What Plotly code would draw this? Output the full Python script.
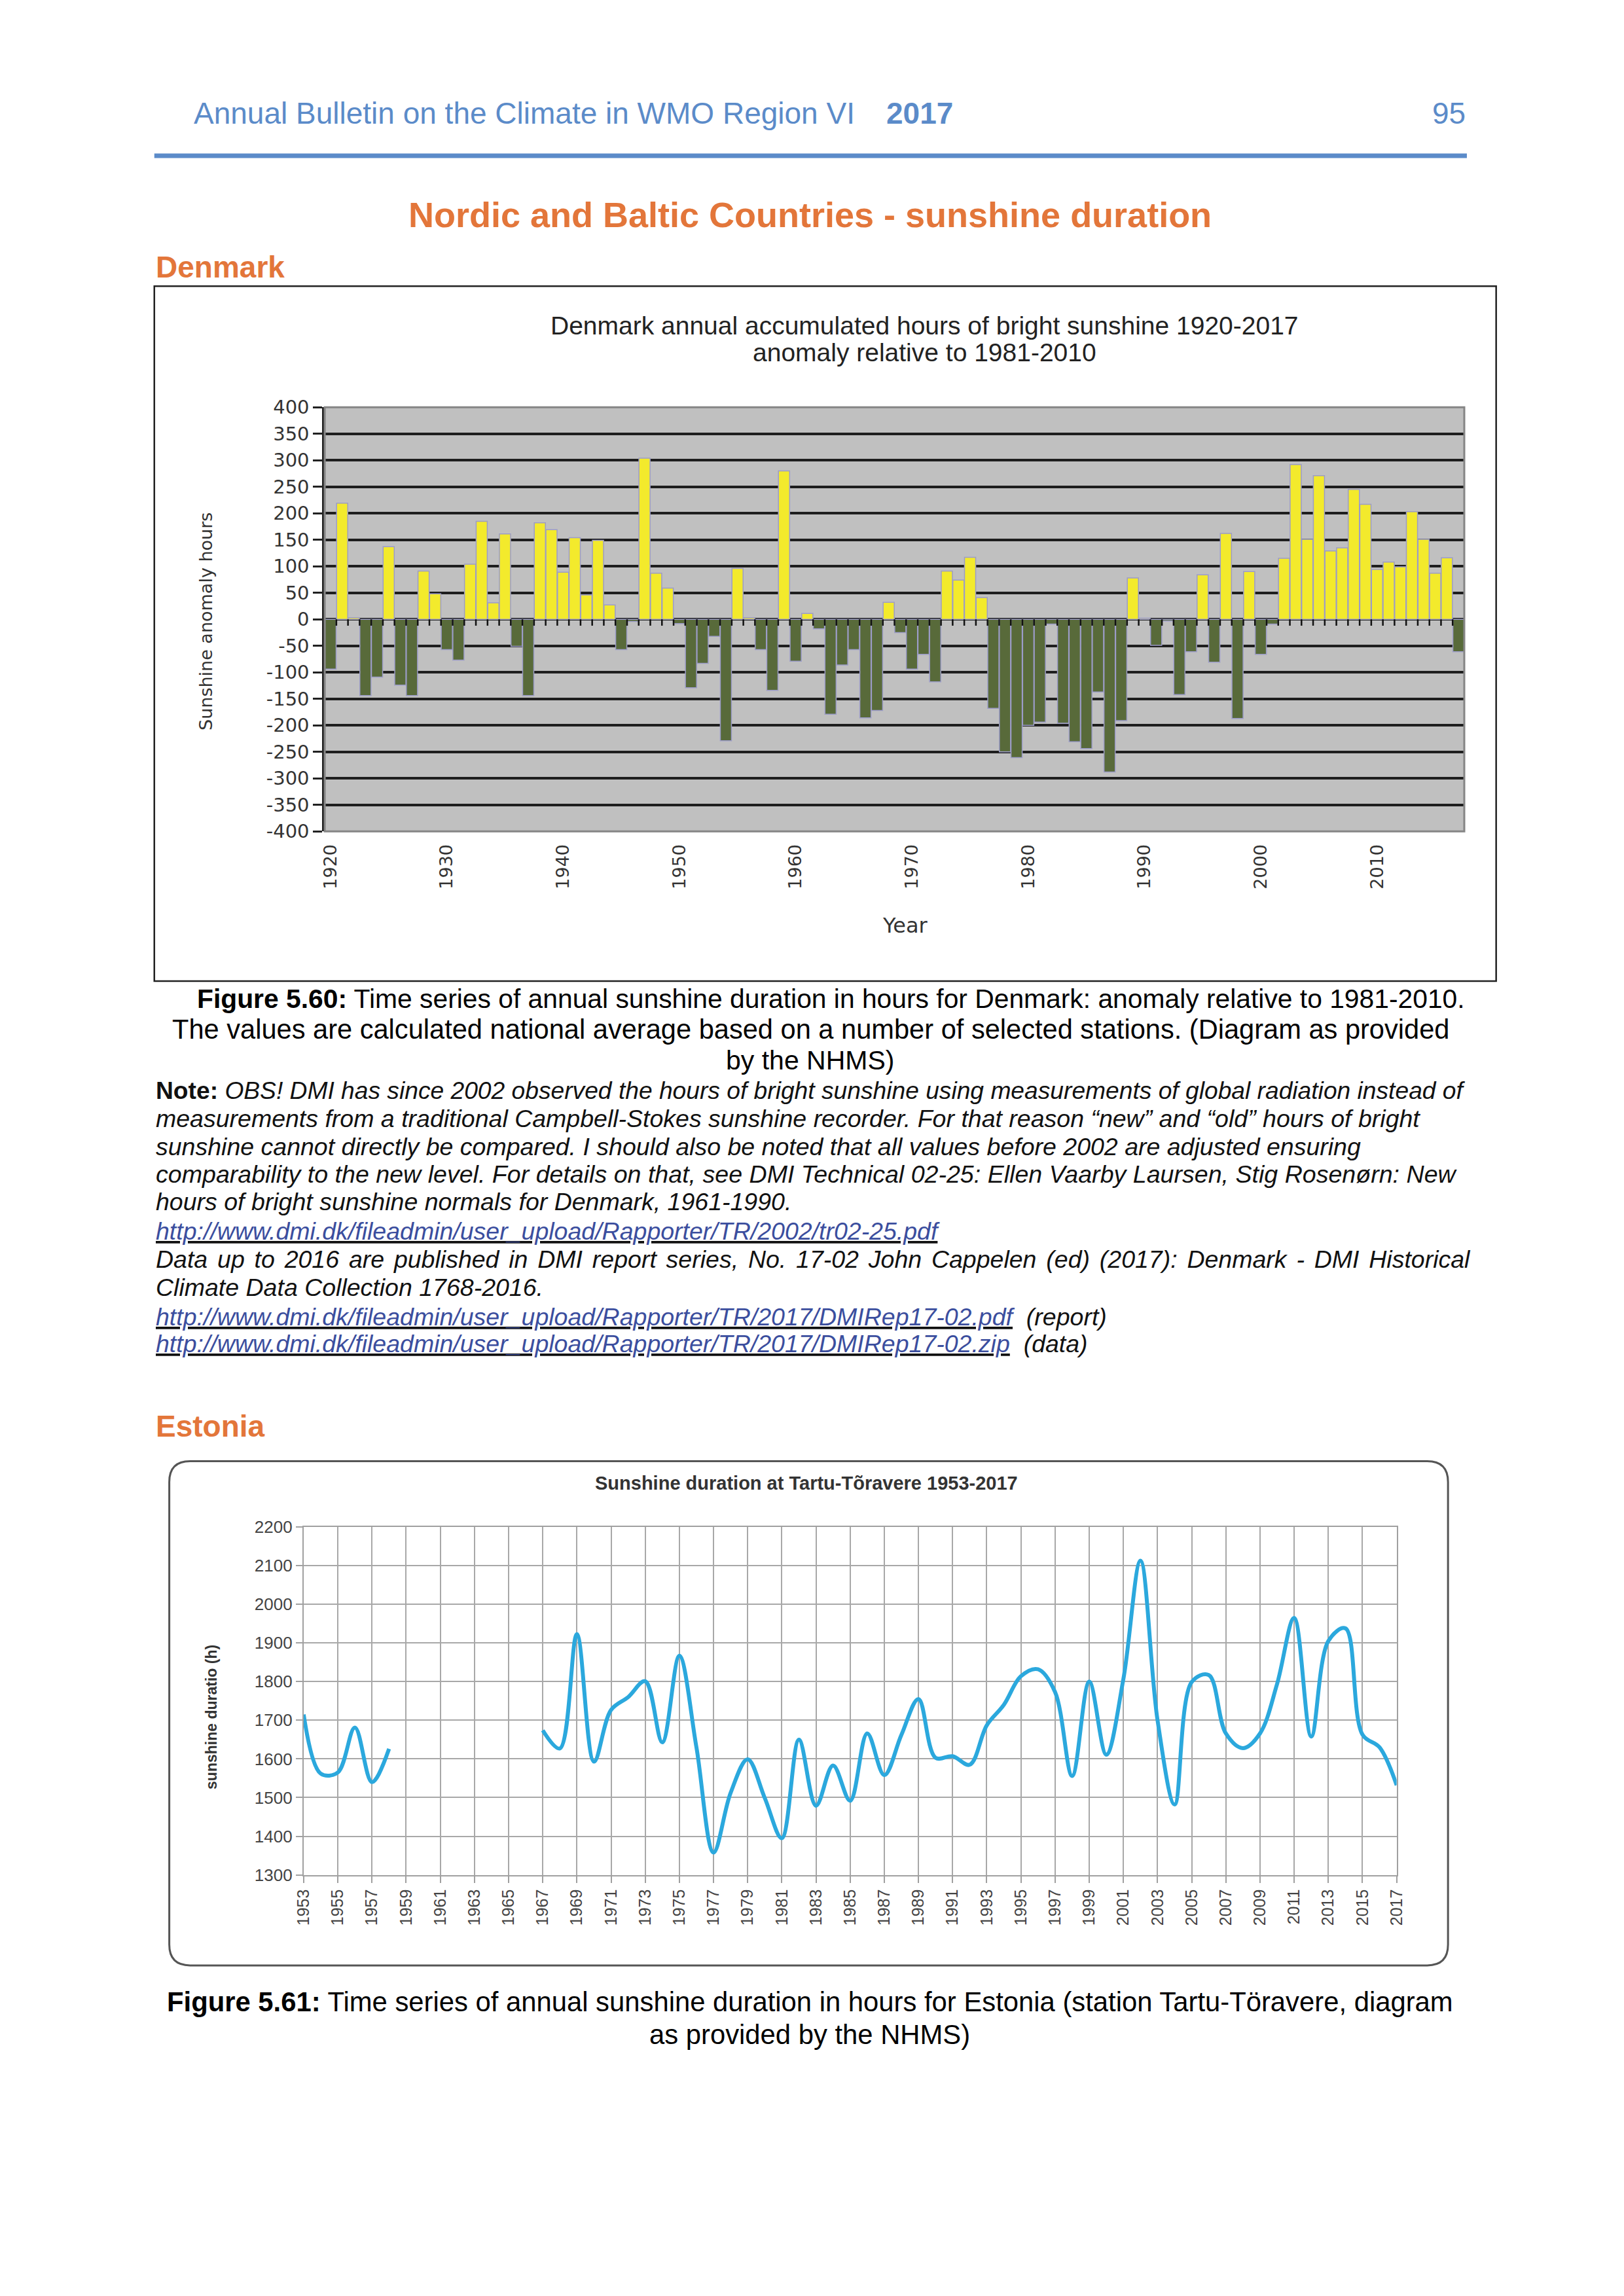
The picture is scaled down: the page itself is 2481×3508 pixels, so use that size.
import plotly.graph_objects as go

# ---------------- data ----------------
dk_years = list(range(1920, 2018))
dk_anom = [
    -94, 219, 3, -144, -109, 137, -124, -144, 91, 48,        # 1920-1929
    -57, -77, 104, 185, 31, 161, -51, -144, 182, 169,        # 1930-1939
    89, 154, 46, 149, 27, -57, -4, 304, 87, 59,              # 1940-1949
    -8, -129, -83, -32, -229, 96, 3, -57, -134, 280,         # 1950-1959
    -79, 11, -18, -179, -86, -57, -186, -172, 32, -25,       # 1960-1969
    -94, -66, -118, 91, 74, 117, 41, -168, -250, -261,       # 1970-1979
    -200, -194, -9, -196, -231, -244, -137, -288, -191, 78,  # 1980-1989
    2, -49, -3, -142, -61, 84, -81, 162, -187, 90,           # 1990-1999
    -66, -9, 115, 292, 151, 271, 129, 135, 245, 217,         # 2000-2009
    94, 108, 99, 203, 151, 87, 116, -61                      # 2010-2017
]
dk_yticks = list(range(-400, 401, 50))
dk_xticks = list(range(1920, 2011, 10))

ee_years = list(range(1953, 2018))
ee_hours = [
    1715, 1562, 1565, 1681, 1540, 1626,                      # 1953-1958
    None, None, None, None, None, None, None, None,          # 1959-1966
    1674, 1627, 1923, 1593, 1727, 1760, 1801, 1643, 1867,    # 1967-1975
    1630, 1358, 1512, 1599, 1499, 1395, 1650, 1479, 1583,    # 1976-1984
    1492, 1666, 1558, 1662, 1755, 1603, 1607, 1585, 1687,    # 1985-1993
    1740, 1814, 1832, 1773, 1556, 1800, 1611, 1807, 2113,    # 1994-2002
    1700, 1482, 1799, 1817, 1666, 1628, 1666, 1794, 1965,    # 2003-2011
    1658, 1905, 1938, 1663, 1630, 1532                       # 2012-2017
]
ee_xticks = list(range(1953, 2018, 2))
ee_yticks = list(range(1300, 2201, 100))

# ---------------- page geometry helpers ----------------
W, H = 2481, 3508
K, OFF = 1.005, 24.0   # small correction for the page offset seen in the render
def fx(x):
    return (K * x - OFF) / W
def fy(y):
    return 1 - (K * y - OFF) / H

YELLOW = "#F3EA2C"
GREEN = "#586A3A"
BLUE_HDR = "#5B8BC9"
ORANGE = "#E3763A"
LINK = "#3B4E9E"
LINE_BLUE = "#2BA8DD"

fig = go.Figure()

# Denmark bars
colors = [YELLOW if v >= 0 else GREEN for v in dk_anom]
fig.add_trace(go.Bar(
    x=dk_years, y=dk_anom, marker=dict(color=colors, line=dict(color="#9C9CC8", width=1.5)),
    xaxis="x", yaxis="y", showlegend=False, hoverinfo="x+y"))

# small tick marks on the zero line between the bars
fig.add_trace(go.Scatter(
    x=[y + 0.5 for y in dk_years[:-1]], y=[0] * (len(dk_years) - 1), mode="markers",
    marker=dict(size=1, color="rgba(0,0,0,0)"),
    error_y=dict(type="constant", symmetric=False, value=0, valueminus=12,
                 width=0, thickness=2.5, color="#111111"),
    xaxis="x", yaxis="y", showlegend=False, hoverinfo="skip"))

# Estonia line
fig.add_trace(go.Scatter(
    x=ee_years, y=ee_hours, mode="lines", line=dict(color=LINE_BLUE, width=6, shape="spline", smoothing=1.0),
    connectgaps=False, xaxis="x2", yaxis="y2", showlegend=False))

dk_font = dict(family="DejaVu Sans", size=29, color="#333333")
ee_font = dict(family="Liberation Sans", size=26, color="#444444")

fig.update_layout(
    width=W, height=H, margin=dict(l=0, r=0, t=0, b=0),
    paper_bgcolor="white", plot_bgcolor="white",
    bargap=0.04,
    xaxis=dict(domain=[fx(500), fx(2252)], range=[1919.5, 2017.5], tickmode="array",
               tickvals=dk_xticks, ticktext=[str(t) for t in dk_xticks], tickangle=-90,
               tickfont=dict(family="DejaVu Sans", size=27, color="#333333"),
               ticks="outside", ticklen=8, tickcolor="rgba(0,0,0,0)",
               showgrid=False, zeroline=False, showline=False, anchor="y"),
    yaxis=dict(domain=[fy(1275), fy(624)], range=[-400, 400], tickmode="array",
               tickvals=dk_yticks, ticktext=[str(t) for t in dk_yticks], tickfont=dk_font,
               ticks="outside", ticklen=14, tickwidth=2.5, tickcolor="#222222",
               showgrid=True, gridcolor="#1E1E1E", gridwidth=3.5,
               zeroline=False, showline=True, linecolor="#222222", linewidth=3.5, anchor="x"),
    xaxis2=dict(domain=[fx(467.6), fx(2148)], range=[1953, 2017], tickmode="array",
                tickvals=ee_xticks, ticktext=[str(t) for t in ee_xticks], tickangle=-90,
                tickfont=dict(family="Liberation Sans", size=25, color="#444444"),
                ticks="outside", ticklen=10, tickwidth=2, tickcolor="#A0A0A0",
                showgrid=True, gridcolor="#A8A8A8", gridwidth=2,
                zeroline=False, showline=True, mirror=True, linecolor="#A0A0A0", linewidth=2,
                anchor="y2"),
    yaxis2=dict(domain=[fy(2877), fy(2343)], range=[1300, 2200], tickmode="array",
                tickvals=ee_yticks, ticktext=[str(t) for t in ee_yticks], tickfont=ee_font,
                ticks="outside", ticklen=10, tickwidth=2, tickcolor="#A0A0A0",
                showgrid=True, gridcolor="#A8A8A8", gridwidth=2,
                zeroline=False, showline=True, mirror=True, linecolor="#A0A0A0", linewidth=2,
                anchor="x2"),
)

# Denmark plot background (grey) and border
shapes = [
    dict(type="rect", xref="x domain", yref="y domain", x0=0, x1=1, y0=0, y1=1,
         fillcolor="#C0C0C0", line=dict(width=0), layer="below"),
    dict(type="rect", xref="x domain", yref="y domain", x0=0, x1=1, y0=0, y1=1,
         line=dict(color="#858585", width=3), layer="above"),
    # Denmark frame
    dict(type="rect", xref="paper", yref="paper", x0=fx(238), x1=fx(2301), y0=fy(1505), y1=fy(438),
         line=dict(color="#222222", width=2.5)),
    # header rule
    dict(type="line", xref="paper", yref="paper", x0=fx(238), x1=fx(2256), y0=fy(238), y1=fy(238),
         line=dict(color=BLUE_HDR, width=7)),
]
# Estonia rounded frame
x0, x1, y0, y1, r = 261, 2227, 2242, 3016, 32
path = (f"M {fx(x0 + r)},{fy(y0)} L {fx(x1 - r)},{fy(y0)} "
        f"Q {fx(x1)},{fy(y0)} {fx(x1)},{fy(y0 + r)} L {fx(x1)},{fy(y1 - r)} "
        f"Q {fx(x1)},{fy(y1)} {fx(x1 - r)},{fy(y1)} L {fx(x0 + r)},{fy(y1)} "
        f"Q {fx(x0)},{fy(y1)} {fx(x0)},{fy(y1 - r)} L {fx(x0)},{fy(y0 + r)} "
        f"Q {fx(x0)},{fy(y0)} {fx(x0 + r)},{fy(y0)} Z")
shapes.append(dict(type="path", xref="paper", yref="paper", path=path,
                   line=dict(color="#555555", width=3)))
fig.update_layout(shapes=shapes)

ann = []
def text(x, y, s, size, color="#000000", family="Liberation Sans", xanchor="left", yanchor="middle", angle=0):
    ann.append(dict(x=fx(x), y=fy(y), xref="paper", yref="paper", text=s, showarrow=False,
                    xanchor=xanchor, yanchor=yanchor, textangle=angle,
                    font=dict(family=family, size=size, color=color)))

# page header
text(297, 173, "Annual Bulletin on the Climate in WMO Region VI", 46, BLUE_HDR)
text(1361, 173, "<b>2017</b>", 46, BLUE_HDR)
text(2256, 173, "95", 46, BLUE_HDR, xanchor="right")
text(1246, 328, "<b>Nordic and Baltic Countries - sunshine duration</b>", 54, ORANGE, xanchor="center")
text(238, 409, "<b>Denmark</b>", 46, ORANGE)

# Denmark chart texts
text(1422, 499, "Denmark annual accumulated hours of bright sunshine 1920-2017", 39, "#222222", xanchor="center")
text(1422, 540, "anomaly relative to 1981-2010", 39, "#222222", xanchor="center")
text(317, 953, "Sunshine anomaly hours", 27, "#333333", family="DejaVu Sans", xanchor="center", angle=-90)
text(1393, 1419, "Year", 32, "#333333", family="DejaVu Sans", xanchor="center")

# caption 5.60
text(1278, 1532, "<b>Figure 5.60:</b> Time series of annual sunshine duration in hours for Denmark: anomaly relative to 1981-2010.", 40.8, xanchor="center")
text(1247, 1579, "The values are calculated national average based on a number of selected stations. (Diagram as provided", 41.6, xanchor="center")
text(1246, 1626, "by the NHMS)", 41, xanchor="center")

note_lines = [
    "<b>Note:</b> <i>OBS! DMI has since 2002 observed the hours of bright sunshine using measurements of global radiation instead of</i>",
    "<i>measurements from a traditional Campbell-Stokes sunshine recorder. For that reason “new” and “old” hours of bright</i>",
    "<i>sunshine cannot directly be compared. I should also be noted that all values before 2002 are adjusted ensuring</i>",
    "<i>comparability to the new level. For details on that, see DMI Technical 02-25: Ellen Vaarby Laursen, Stig Rosenørn: New</i>",
    "<i>hours of bright sunshine normals for Denmark, 1961-1990.</i>",
    f"<i><u><span style='color:{LINK}'>http://www.dmi.dk/fileadmin/user_upload/Rapporter/TR/2002/tr02-25.pdf</span></u></i>",
    "<i><span style='word-spacing:4.4px'>Data up to 2016 are published in DMI report series, No. 17-02 John Cappelen (ed) (2017): Denmark - DMI Historical</span></i>",
    "<i>Climate Data Collection 1768-2016.</i>",
    f"<i><u><span style='color:{LINK}'>http://www.dmi.dk/fileadmin/user_upload/Rapporter/TR/2017/DMIRep17-02.pdf</span></u>  (report)</i>",
    f"<i><u><span style='color:{LINK}'>http://www.dmi.dk/fileadmin/user_upload/Rapporter/TR/2017/DMIRep17-02.zip</span></u>  (data)</i>",
]
note_sizes = [37.2, 37.5, 37.5, 37.6, 37.5, 37.5, 37.5, 37.5, 37.5, 37.5]
note_y = [1673, 1716, 1759, 1801, 1844, 1889, 1932, 1975, 2020, 2062]
for s, yy, fs in zip(note_lines, note_y, note_sizes):
    text(238, yy, s, fs, "#111111")

# Estonia
text(238, 2188, "<b>Estonia</b>", 46, ORANGE)
text(1241, 2276, "<b>Sunshine duration at Tartu-Tõravere 1953-2017</b>", 29, "#333333", xanchor="center")
text(326, 2635, "<b>sunshine duratio (h)</b>", 23, "#333333", xanchor="center", angle=-90)

text(1246, 3072, "<b>Figure 5.61:</b> Time series of annual sunshine duration in hours for Estonia (station Tartu-Töravere, diagram", 41.8, xanchor="center")
text(1246, 3122, "as provided by the NHMS)", 41.8, xanchor="center")

fig.update_layout(annotations=ann)
fig.write_html("out.html")
